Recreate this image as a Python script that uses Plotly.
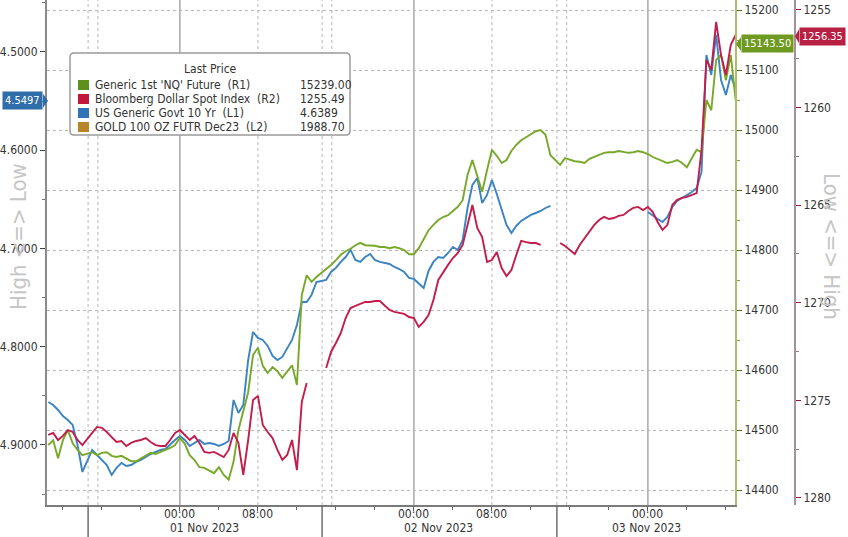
import pandas as pd
import plotly.graph_objects as go

# ---------------- data ----------------
# sample times: four trading sessions, 30-minute steps (Pacific time)
session_starts = ["2023-10-31 10:30", "2023-10-31 15:00", "2023-11-01 15:00", "2023-11-02 15:00"]
session_lengths = [8, 47, 47, 37]

nq_s0 = [14475, 14483, 14453, 14483, 14500, 14478, 14467, 14458]
nq_s1 = [14463, 14458, 14462, 14463, 14457, 14455, 14457, 14453, 14448, 14448,
         14453, 14458, 14462, 14460, 14463, 14467, 14470, 14475, 14487, 14477,
         14458, 14450, 14438, 14437, 14432, 14428, 14438, 14425, 14417, 14447,
         14500, 14533, 14563, 14625, 14637, 14607, 14595, 14605, 14598, 14587,
         14597, 14608, 14575, 14725, 14758, 14747, 14755]
nq_s2 = [14768, 14775, 14783, 14792, 14798, 14802, 14808, 14812, 14808, 14808,
         14807, 14805, 14805, 14803, 14805, 14803, 14800, 14793, 14793, 14803,
         14817, 14833, 14842, 14850, 14855, 14858, 14865, 14872, 14883, 14925,
         14950, 14925, 14897, 14933, 14967, 14957, 14945, 14950, 14965, 14975,
         14983, 14988, 14993, 14998, 15000, 14992, 14958]
nq_s3 = [14942, 14953, 14950, 14948, 14947, 14945, 14952, 14955, 14958, 14962,
         14963, 14963, 14965, 14963, 14962, 14963, 14965, 14963, 14960, 14955,
         14952, 14948, 14945, 14947, 14950, 14945, 14938, 14953, 14967, 14963,
         15050, 15033, 15117, 15125, 15083, 15125, 15050]

us10_s0 = [4.8562, 4.8593, 4.8644, 4.8705, 4.8746, 4.8796, 4.9000, 4.9275]
us10_s1 = [4.9051, 4.9102, 4.9153, 4.9204, 4.9305, 4.9234, 4.9183, 4.9214, 4.9204, 4.9173,
           4.9153, 4.9122, 4.9092, 4.9071, 4.9051, 4.9041, 4.8990, 4.8949, 4.8908, 4.8949,
           4.9010, 4.8980, 4.8949, 4.8990, 4.8980, 4.8990, 4.9010, 4.8990, 4.8959, 4.8542,
           4.8674, 4.8593, 4.8135, 4.7850, 4.7911, 4.7931, 4.7992, 4.8094, 4.8135, 4.8104,
           4.8013, 4.7931, 4.7779, 4.7545, 4.7545, 4.7473, 4.7341]
us10_s2 = [4.7321, 4.7239, 4.7198, 4.7137, 4.7087, 4.7015, 4.7117, 4.7137, 4.7087, 4.7056,
           4.7117, 4.7137, 4.7148, 4.7158, 4.7188, 4.7209, 4.7239, 4.7300, 4.7310, 4.7361,
           4.7402, 4.7229, 4.7137, 4.7087, 4.7097, 4.7046, 4.6985, 4.7015, 4.6913, 4.6588,
           4.6354, 4.6282, 4.6537, 4.6455, 4.6303, 4.6445, 4.6608, 4.6761, 4.6842, 4.6771,
           4.6720, 4.6690, 4.6659, 4.6639, 4.6618, 4.6588, 4.6567]
us10_s3 = [None, None, None, None, None, None, None, None, None, None,
           None, None, None, None, None, None, None, None, 4.6628,
           4.6669, 4.6700, 4.6730, 4.6679, 4.6578, 4.6517, 4.6486, 4.6455, 4.6425, 4.6384,
           4.6221, 4.5031, 4.5234, 4.4827, 4.5285, 4.5438, 4.5234, 4.5387]

dxy_s0 = [1276.77, 1276.67, 1277.03, 1276.82, 1276.52, 1276.62, 1277.03, 1277.29]
dxy_s1 = [1276.67, 1276.36, 1276.41, 1276.62, 1276.88, 1277.13, 1277.08, 1277.34, 1277.18, 1277.08,
          1277.03, 1276.93, 1277.13, 1277.29, 1277.34, 1277.34, 1277.03, 1276.67, 1276.52, 1276.77,
          1277.03, 1276.82, 1277.18, 1277.64, 1277.69, 1277.64, 1277.75, 1277.90, 1277.54, 1276.67,
          1277.18, 1278.82, 1277.03, 1274.98, 1274.77, 1276.26, 1276.62, 1276.93, 1277.54, 1278.05,
          1277.80, 1277.03, 1278.57, 1275.08, 1274.11, None, None]
dxy_s2 = [1273.34, 1272.52, 1272.06, 1271.55, 1270.78, 1270.27, 1270.16, 1270.06, 1269.96, 1269.96,
          1269.91, 1269.91, 1270.16, 1270.37, 1270.47, 1270.52, 1270.57, 1270.73, 1270.78, 1271.24,
          1270.98, 1270.63, 1269.86, 1268.83, 1268.42, 1268.06, 1267.71, 1267.45, 1267.04, 1266.01,
          1264.99, 1266.17, 1266.63, 1267.91, 1267.81, 1267.40, 1268.22, 1268.63, 1268.32, 1267.55,
          1266.83, 1266.89, 1266.94, 1266.94, 1267.04, None, None]
dxy_s3 = [1266.94, 1267.09, 1267.30, 1267.50, 1267.04, 1266.68, 1266.37, 1266.01, 1265.76, 1265.60,
          1265.71, 1265.66, 1265.55, 1265.50, 1265.30, 1265.14, 1265.09, 1265.25, 1265.09, 1265.35,
          1265.86, 1266.27, 1266.01, 1264.99, 1264.73, 1264.63, 1264.58, 1264.48, 1264.38, 1262.17,
          1257.56, 1258.07, 1255.61, 1257.31, 1258.33, 1256.79, 1256.28]

legend_names = ["Generic 1st 'NQ' Future  (R1)", "Bloomberg Dollar Spot Index  (R2)",
                "US Generic Govt 10 Yr  (L1)", "GOLD 100 OZ FUTR Dec23  (L2)"]
legend_last = ["15239.00", "1255.49", "4.6389", "1988.70"]
legend_colors = ["#5f8f1c", "#c3163c", "#2f74b6", "#b8842a"]

tag_us10, tag_nq, tag_dxy = 4.5497, 15143.50, 1256.35

day_ticks = ["2023-11-01 00:00", "2023-11-02 00:00", "2023-11-03 00:00"]
hour_ticks = ["2023-11-01 08:00", "2023-11-02 08:00"]
tickvals = ["2023-11-01 00:00", "2023-11-01 08:00", "2023-11-02 00:00", "2023-11-02 08:00", "2023-11-03 00:00"]
ticktext = ["00:00", "08:00", "00:00", "08:00", "00:00"]
session_breaks = ["2023-10-31 14:35", "2023-11-01 14:35", "2023-11-02 14:40"]
date_labels = ["01 Nov 2023", "02 Nov 2023", "03 Nov 2023"]
date_label_pos = ["2023-11-01 02:30", "2023-11-02 02:30", "2023-11-02 23:50"]

# ---------------- build ----------------
times = []
for s, n in zip(session_starts, session_lengths):
    times += list(pd.date_range(s, periods=n, freq="30min"))

nq = nq_s0 + nq_s1 + nq_s2 + nq_s3
us10 = us10_s0 + us10_s1 + us10_s2 + us10_s3
dxy = dxy_s0 + dxy_s1 + dxy_s2 + dxy_s3

GREEN, RED, BLUE = "#78a82a", "#c21d4b", "#3a84c2"
FONT = "Liberation Sans Narrow, DejaVu Sans Condensed, Arial Narrow, Liberation Sans, sans-serif"

fig = go.Figure()
fig.add_trace(go.Scatter(x=times, y=nq, yaxis="y2", mode="lines",
                         line=dict(color=GREEN, width=1.9), connectgaps=False, showlegend=False))
fig.add_trace(go.Scatter(x=times, y=us10, yaxis="y", mode="lines",
                         line=dict(color=BLUE, width=1.9), connectgaps=False, showlegend=False))
fig.add_trace(go.Scatter(x=times, y=dxy, yaxis="y3", mode="lines",
                         line=dict(color=RED, width=1.9), connectgaps=False, showlegend=False))

W, H = 848, 537
ML, MR, MT, MB = 47, 18, 0, 32
pw = W - ML - MR
ph = H - MT - MB
xdom_end = 688 / pw

Y1 = [4.9611, 4.4471]
Y2 = [14375, 15216.7]
Y3 = [1280.36, 1254.49]


def px(xp):
    return (xp - ML) / pw


def py(yp):
    return (ph - yp) / ph


fig.update_layout(
    width=W, height=H, margin=dict(l=ML, r=MR, t=MT, b=MB),
    paper_bgcolor="white", plot_bgcolor="white", showlegend=False,
    font=dict(family=FONT, size=12, color="#333"),
    xaxis=dict(domain=[0, xdom_end], type="date",
               range=["2023-10-31 10:22", "2023-11-03 08:56"],
               tickmode="array", tickvals=tickvals, ticktext=ticktext, showticklabels=False,
               ticks="outside", ticklen=4, tickcolor="#555", showgrid=False,
               showline=True, linecolor="#7a7a7a", linewidth=2, zeroline=False,
               minor=dict(dtick=4 * 3600 * 1000, tick0="2023-11-01", ticks="outside",
                          ticklen=3, tickcolor="#666")),
    yaxis=dict(range=Y1, tickvals=[4.5, 4.6, 4.7, 4.8, 4.9], tickformat=".4f",
               ticks="outside", ticklen=5, tickcolor="#444", showgrid=False, zeroline=False,
               showline=True, linecolor="#8a8a8a", linewidth=2,
               minor=dict(dtick=0.05, tick0=4.45, ticks="outside", ticklen=3, tickcolor="#777")),
    yaxis2=dict(range=Y2, overlaying="y", side="right", anchor="x",
                tickvals=[14400, 14500, 14600, 14700, 14800, 14900, 15000, 15100, 15200],
                tickformat="d",
                ticks="outside", ticklen=5, tickcolor="#4d6b12", zeroline=False,
                showline=True, linecolor="#a9bf6a", linewidth=2,
                showgrid=True, gridcolor="#b5b5b5", griddash="dot", gridwidth=1,
                minor=dict(dtick=50, tick0=14350, ticks="outside", ticklen=3, tickcolor="#8a9a60")),
    yaxis3=dict(range=Y3, overlaying="y", side="right", anchor="free",
                position=px(795), tickvals=[1255, 1260, 1265, 1270, 1275, 1280], tickformat="d",
                ticks="outside", ticklen=5, tickcolor="#8c1a33", zeroline=False, showgrid=False,
                showline=True, linecolor="#a89098", linewidth=2,
                minor=dict(dtick=2.5, tick0=1252.5, ticks="outside", ticklen=3, tickcolor="#9a7a82")),
)

shapes = []
# vertical grid: solid at midnight, dotted at 08:00 and around session breaks
for d in day_ticks:
    shapes.append(dict(type="line", xref="x", yref="paper", x0=d, x1=d, y0=0, y1=1,
                       line=dict(color="#9a9a9a", width=1.3), layer="below"))
for d in hour_ticks:
    shapes.append(dict(type="line", xref="x", yref="paper", x0=d, x1=d, y0=0, y1=1,
                       line=dict(color="#b5b5b5", width=1, dash="dot"), layer="below"))
for d in session_breaks:
    t = pd.Timestamp(d)
    for off in [pd.Timedelta(0), pd.Timedelta(minutes=60)]:
        shapes.append(dict(type="line", xref="x", yref="paper", x0=t + off, x1=t + off, y0=0, y1=1,
                           line=dict(color="#b5b5b5", width=1, dash="dot"), layer="below"))
    shapes.append(dict(type="line", xref="x", yref="paper", x0=d, x1=d, y0=-0.07, y1=0,
                       line=dict(color="#6e6e6e", width=1.5)))

# legend box with rounded corners
lx0, lx1, ly0, ly1, r = px(70), px(350), py(135), py(53), 4
rx, ry = r / pw, r / ph
legend_path = (f"M {lx0 + rx},{ly1} L {lx1 - rx},{ly1} Q {lx1},{ly1} {lx1},{ly1 - ry} "
               f"L {lx1},{ly0 + ry} Q {lx1},{ly0} {lx1 - rx},{ly0} L {lx0 + rx},{ly0} "
               f"Q {lx0},{ly0} {lx0},{ly0 + ry} L {lx0},{ly1 - ry} Q {lx0},{ly1} {lx0 + rx},{ly1} Z")
shapes.append(dict(type="path", xref="paper", yref="paper", path=legend_path,
                   line=dict(color="#9a9a9a", width=1.5), fillcolor="white", layer="above"))
rows_y = [85, 99, 113, 127]
for yy, c in zip(rows_y, legend_colors):
    shapes.append(dict(type="rect", xref="paper", yref="paper", x0=px(78), x1=px(89),
                       y0=py(yy + 5), y1=py(yy - 5), line=dict(width=0), fillcolor=c, layer="above"))


# pointer triangles of the last-value tags (half height 7 px in each axis' units)
def half(rng):
    return 7 * abs(rng[1] - rng[0]) / ph


h1, h2, h3 = half(Y1), half(Y2), half(Y3)
shapes.append(dict(type="path", xref="paper", yref="y",
                   path=f"M {px(43)},{tag_us10 - h1} L {px(48)},{tag_us10} L {px(43)},{tag_us10 + h1} Z",
                   fillcolor="#2f6ea8", line=dict(width=0), layer="above"))
shapes.append(dict(type="path", xref="paper", yref="y2",
                   path=f"M {px(741)},{tag_nq - h2} L {px(736)},{tag_nq} L {px(741)},{tag_nq + h2} Z",
                   fillcolor="#6f9a22", line=dict(width=0), layer="above"))
shapes.append(dict(type="path", xref="paper", yref="y3",
                   path=f"M {px(799)},{tag_dxy - h3} L {px(795)},{tag_dxy} L {px(799)},{tag_dxy + h3} Z",
                   fillcolor="#b71f43", line=dict(width=0), layer="above"))

annotations = []
annotations.append(dict(xref="paper", yref="paper", x=px(210), y=py(69), text="Last Price",
                        showarrow=False, font=dict(size=12, color="#333"), xanchor="center", yanchor="middle"))
for yy, name, val in zip(rows_y, legend_names, legend_last):
    annotations.append(dict(xref="paper", yref="paper", x=px(93), y=py(yy), text=name.replace("  ", "&nbsp;&nbsp;"),
                            showarrow=False, font=dict(size=12, color="#333"), xanchor="left", yanchor="middle"))
    annotations.append(dict(xref="paper", yref="paper", x=px(298), y=py(yy), text=val,
                            showarrow=False, font=dict(size=12, color="#333"), xanchor="left", yanchor="middle"))

# hour tick labels and date labels under the time axis
for tv, tt in zip(tickvals, ticktext):
    annotations.append(dict(xref="x", yref="paper", x=tv, y=py(514), text=tt, showarrow=False,
                            font=dict(size=12, color="#333"), xanchor="center", yanchor="middle"))
for lbl, pos in zip(date_labels, date_label_pos):
    annotations.append(dict(xref="x", yref="paper", x=pos, y=py(528), text=lbl, showarrow=False,
                            font=dict(size=12, color="#333"), xanchor="center", yanchor="middle"))

# axis titles
annotations.append(dict(xref="paper", yref="paper", x=px(18), y=py(237), text="High &lt;=&gt; Low",
                        textangle=-90, showarrow=False, font=dict(size=22, color="#c6c6c6"),
                        xanchor="center", yanchor="middle"))
annotations.append(dict(xref="paper", yref="paper", x=px(832), y=py(246), text="Low &lt;=&gt; High",
                        textangle=90, showarrow=False, font=dict(size=22, color="#c6c6c6"),
                        xanchor="center", yanchor="middle"))

# last-value tags
annotations.append(dict(xref="paper", yref="y", x=px(43), y=tag_us10, text=f"{tag_us10:.4f}",
                        showarrow=False, xanchor="right", yanchor="middle", bgcolor="#2f6ea8",
                        font=dict(size=11, color="white"), borderpad=2))
annotations.append(dict(xref="paper", yref="y2", x=px(741), y=tag_nq, text=f"{tag_nq:.2f}",
                        showarrow=False, xanchor="left", yanchor="middle", bgcolor="#6f9a22",
                        font=dict(size=11, color="white"), borderpad=2))
annotations.append(dict(xref="paper", yref="y3", x=px(799), y=tag_dxy, text=f"{tag_dxy:.2f}",
                        showarrow=False, xanchor="left", yanchor="middle", bgcolor="#b71f43",
                        font=dict(size=11, color="white"), borderpad=2))

fig.update_layout(shapes=shapes, annotations=annotations)
fig.write_html("out.html", config={"displayModeBar": False})

# remove the browser's default page margin so the figure sits at the window origin
with open("out.html", "r", encoding="utf-8") as f:
    html = f.read()
html = html.replace("<head>", "<head><style>html,body{margin:0;padding:0;overflow:hidden;}</style>", 1)
with open("out.html", "w", encoding="utf-8") as f:
    f.write(html)
